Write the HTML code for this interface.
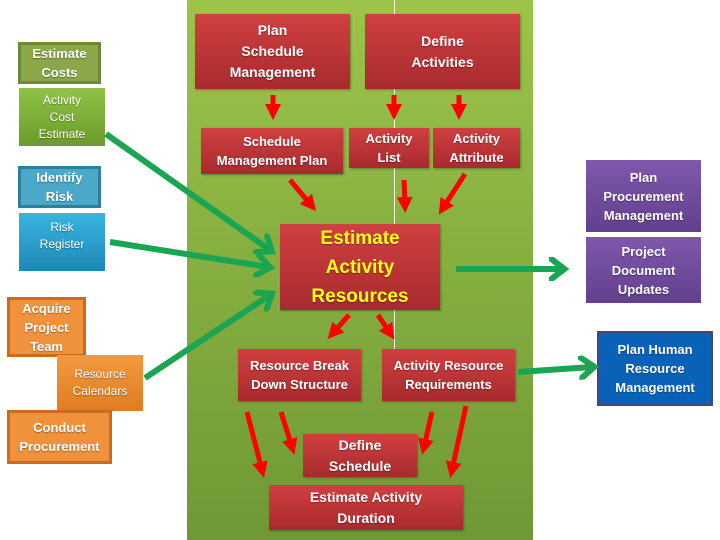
<!DOCTYPE html>
<html><head><meta charset="utf-8"><style>
body{margin:0;width:720px;height:540px;background:#fff;position:relative;overflow:hidden;font-family:"Liberation Sans",sans-serif;}
.b{position:absolute;box-sizing:border-box;display:flex;align-items:center;justify-content:center;text-align:center;color:#fff;font-weight:bold;font-size:13px;line-height:19px;text-shadow:0 1px 1px rgba(0,0,0,.35);}
.r{background:linear-gradient(#d04040,#a82a2e);box-shadow:1px 1px 2px rgba(0,0,0,.3);}
.f{font-weight:normal;font-size:12px;line-height:17px;}
#panel{position:absolute;left:187px;top:0;width:346px;height:540px;background:linear-gradient(#9cc44a,#6f9836);}
svg{position:absolute;left:0;top:0;}
</style></head><body>
<div id="panel"></div>
<div style="position:absolute;left:394px;top:0;width:1px;height:350px;background:#f4f4e0"></div>

<div class="b" style="left:18px;top:42px;width:83px;height:42px;background:#8aa84a;border:3px solid #6e8a36">Estimate<br>Costs</div>
<div class="b f" style="left:19px;top:88px;width:86px;height:58px;background:linear-gradient(#8fc244,#6c9a2c)">Activity<br>Cost<br>Estimate</div>
<div class="b" style="left:18px;top:166px;width:83px;height:42px;background:#4aa8c8;border:3px solid #2e7f9a">Identify<br>Risk</div>
<div class="b f" style="left:19px;top:213px;width:86px;height:58px;background:linear-gradient(#3ab4e0,#1d88b6);align-items:flex-start;padding-top:6px">Risk<br>Register</div>
<div class="b" style="left:7px;top:297px;width:79px;height:60px;background:#f0913c;border:3px solid #c96c22">Acquire<br>Project<br>Team</div>
<div class="b f" style="left:57px;top:355px;width:86px;height:56px;background:linear-gradient(#f29a40,#e07c20)">Resource<br>Calendars</div>
<div class="b" style="left:7px;top:410px;width:105px;height:54px;background:#f0913c;border:3px solid #c96c22">Conduct<br>Procurement</div>

<div class="b r" style="left:195px;top:14px;width:155px;height:75px;font-size:14px;line-height:21px">Plan<br>Schedule<br>Management</div>
<div class="b r" style="left:365px;top:14px;width:155px;height:75px;font-size:14px;line-height:21px">Define<br>Activities</div>
<div class="b r" style="left:201px;top:128px;width:142px;height:46px">Schedule<br>Management Plan</div>
<div class="b r" style="left:349px;top:128px;width:80px;height:40px">Activity<br>List</div>
<div class="b r" style="left:433px;top:128px;width:87px;height:40px">Activity<br>Attribute</div>
<div class="b r" style="left:280px;top:224px;width:160px;height:86px;color:#ffff1a;font-size:19px;line-height:29px">Estimate<br>Activity<br>Resources</div>
<div class="b r" style="left:238px;top:349px;width:123px;height:52px">Resource Break<br>Down Structure</div>
<div class="b r" style="left:382px;top:349px;width:133px;height:52px">Activity Resource<br>Requirements</div>
<div class="b r" style="left:303px;top:434px;width:114px;height:43px;font-size:14px;line-height:21px">Define<br>Schedule</div>
<div class="b r" style="left:269px;top:485px;width:194px;height:45px;font-size:14px;line-height:21px">Estimate Activity<br>Duration</div>

<div class="b" style="left:586px;top:160px;width:115px;height:72px;background:linear-gradient(#7e58ac,#62408e)">Plan<br>Procurement<br>Management</div>
<div class="b" style="left:586px;top:237px;width:115px;height:66px;background:linear-gradient(#7e58ac,#62408e)">Project<br>Document<br>Updates</div>
<div class="b" style="left:597px;top:331px;width:116px;height:75px;background:#0a62b8;border:2px solid #3b4a86">Plan Human<br>Resource<br>Management</div>

<svg width="720" height="540">
<defs>
<marker id="g" markerWidth="4" markerHeight="4" refX="2.2" refY="2" orient="auto"><path d="M0,0 L2.6,2 L0,4" fill="none" stroke="#19a552" stroke-width="1"/></marker>
<marker id="rd" markerWidth="3.2" markerHeight="3.2" refX="1.6" refY="1.6" orient="auto"><path d="M0,0 L3.2,1.6 L0,3.2 Z" fill="#ff0000"/></marker>
</defs>
<g stroke="#19a552" stroke-width="6" fill="none" marker-end="url(#g)">
<line x1="106" y1="134" x2="270" y2="250"/>
<line x1="110" y1="242" x2="268" y2="267"/>
<line x1="145" y1="378" x2="270" y2="295"/>
<line x1="456" y1="269" x2="562" y2="269"/>
<line x1="518" y1="372" x2="592" y2="367"/>
</g>
<g stroke="#ff0000" stroke-width="5" fill="none" marker-end="url(#rd)">
<line x1="273" y1="95" x2="273" y2="112"/>
<line x1="394" y1="95" x2="394" y2="112"/>
<line x1="459" y1="95" x2="459" y2="112"/>
<line x1="290" y1="180" x2="311" y2="205"/>
<line x1="404" y1="180" x2="405" y2="205"/>
<line x1="465" y1="174" x2="443" y2="208"/>
<line x1="349" y1="315" x2="333" y2="333"/>
<line x1="378" y1="315" x2="390" y2="333"/>
<line x1="247" y1="412" x2="262" y2="470"/>
<line x1="281" y1="412" x2="292" y2="447"/>
<line x1="432" y1="412" x2="424" y2="447"/>
<line x1="466" y1="406" x2="452" y2="470"/>
</g>
</svg>
</body></html>
